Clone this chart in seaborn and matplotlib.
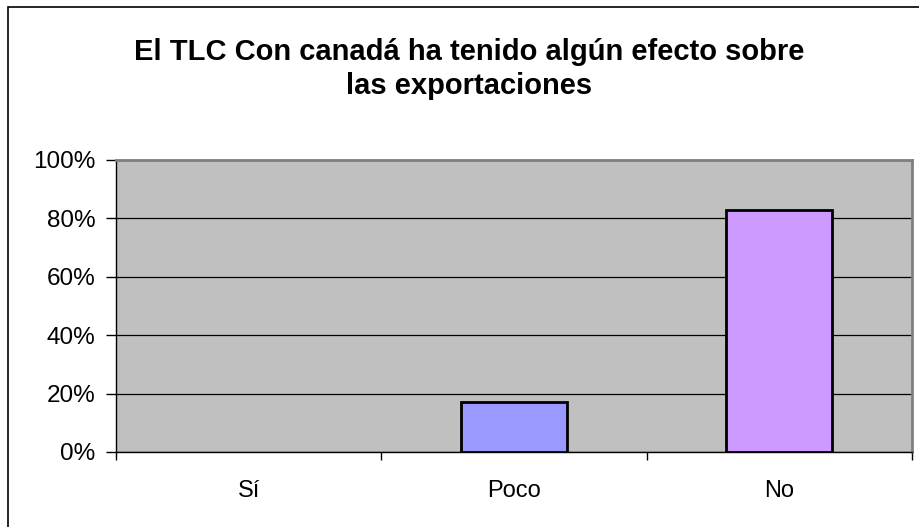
import matplotlib
matplotlib.use("Agg")
import matplotlib.pyplot as plt
import seaborn as sns
import pandas as pd
from matplotlib.ticker import PercentFormatter
from matplotlib.patches import Rectangle

categories = ["Sí", "Poco", "No"]
values = [0, 17, 83]
colors = ["#9999FF", "#9999FF", "#CC99FF"]
title = "El TLC Con canadá ha tenido algún efecto sobre\nlas exportaciones"

plt.rcParams['font.family'] = ['Liberation Sans', 'DejaVu Sans']

fig = plt.figure(figsize=(9.2, 5.27), dpi=100)
fig.patch.set_facecolor("white")
# figure border
fig.patches.append(Rectangle((8/920, -0.05), 1.1, 1 - 7/527 + 0.05, transform=fig.transFigure,
                             fill=False, edgecolor="black", linewidth=1.2))

ax = fig.add_axes([116/920, (527-452)/527, (912-116)/920, (452-160)/527])
ax.set_facecolor("#C0C0C0")

df = pd.DataFrame({"cat": categories, "val": values})
sns.barplot(data=df, x="cat", y="val", hue="cat", palette=colors, legend=False,
            width=0.4, edgecolor="black", linewidth=2, saturation=1, ax=ax, zorder=3)
for p in ax.patches:
    if p.get_height() == 0:
        p.set_linewidth(0)

ax.set_ylim(0, 100)
ax.set_xlim(-0.5, 2.5)
ax.set_yticks([0, 20, 40, 60, 80, 100])
ax.yaxis.set_major_formatter(PercentFormatter(decimals=0))
ax.grid(axis="y", color="black", linewidth=0.9, zorder=0)
ax.set_axisbelow(True)

ax.set_xticks([0, 1, 2])
ax.set_xticklabels(categories)
ax.set_xticks([-0.5, 0.5, 1.5, 2.5], minor=True)
ax.tick_params(axis="x", which="major", length=0, pad=20, labelsize=17)
ax.tick_params(axis="x", which="minor", length=6, width=1, direction="out", color="black")
ax.tick_params(axis="y", length=7, width=1, direction="out", color="black", labelsize=17.5, pad=8)

ax.set_xlabel("")
ax.set_ylabel("")

for side in ["top", "right"]:
    ax.spines[side].set_color("#808080")
    ax.spines[side].set_linewidth(2)
for side in ["left", "bottom"]:
    ax.spines[side].set_color("black")
    ax.spines[side].set_linewidth(1)

fig.text(469/920, 1 - 69/527, title, ha="center", va="center", fontsize=21,
         fontweight="bold", linespacing=1.3)

fig.savefig("out.png", dpi=100)
